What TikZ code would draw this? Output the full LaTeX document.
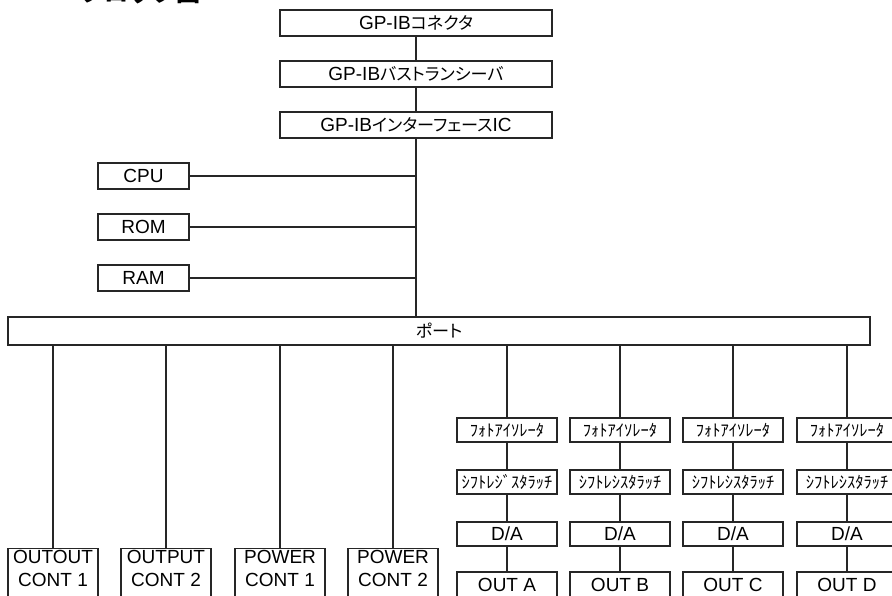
\documentclass[tikz,border=0pt]{standalone}
\usepackage{fontspec}
\setmainfont{Liberation Sans}
\newfontfamily\jp[Scale=0.9,RawFeature={+palt}]{Noto Sans CJK JP}
\newfontfamily\jpn{Noto Sans CJK JP}

\begin{document}
\begin{tikzpicture}[x=1pt,y=-1pt,
  blk/.style={draw=black!85,line width=1.4pt,inner sep=0pt,minimum height=26pt,font=\fontsize{19}{23}\selectfont},
  half/.style={blk,minimum width=100pt,minimum height=24pt,font=\jpn\fontsize{16.5}{18}\selectfont},
  cont/.style={blk,anchor=north,minimum width=90pt,align=center,inner ysep=2pt},
  wire/.style={draw=black!85,line width=1.1pt}]
\useasboundingbox (0,0) rectangle (892,595);

% title (cut off at the top)
\node[anchor=base west,inner sep=0pt,font=\jpn\bfseries\fontsize{24}{24}\selectfont] (title) at (80,1.5) {ブロック図};

% GP-IB chain
\node[blk,minimum width=272pt] (conn) at (416,23) {GP-IB{\jp コネクタ}};
\node[blk,minimum width=272pt] (trx) at (416,74) {GP-IB{\jp バストランシーバ}};
\node[blk,minimum width=272pt] (gpic) at (416,125) {GP-IB{\jp インターフェース}IC};
\draw[wire] (conn) -- (trx);
\draw[wire] (trx) -- (gpic);

% cpu, memory
\node[blk,minimum width=91pt] (cpu) at (143.5,176) {CPU};
\node[blk,minimum width=91pt] (rom) at (143.5,227) {ROM};
\node[blk,minimum width=91pt] (ram) at (143.5,278) {RAM};

\node[blk,minimum width=862pt,minimum height=28pt] (port) at (439,331) {{\jp ポート}};

\draw[wire] (gpic.south) -- (gpic.south |- port.north);
\draw[wire] (cpu.east) -- (cpu.east -| gpic.south);
\draw[wire] (rom.east) -- (rom.east -| gpic.south);
\draw[wire] (ram.east) -- (ram.east -| gpic.south);

% control outputs
\node[cont] (oc1) at (53,548) {OUTOUT\\CONT 1\rule[-12pt]{0pt}{0pt}};
\node[cont] (oc2) at (166,548) {OUTPUT\\CONT 2\rule[-12pt]{0pt}{0pt}};
\node[cont] (pc1) at (280,548) {POWER\\CONT 1\rule[-12pt]{0pt}{0pt}};
\node[cont] (pc2) at (393,548) {POWER\\CONT 2\rule[-12pt]{0pt}{0pt}};
\draw[wire] (oc1.north |- port.south) -- (oc1.north);
\draw[wire] (oc2.north |- port.south) -- (oc2.north);
\draw[wire] (pc1.north |- port.south) -- (pc1.north);
\draw[wire] (pc2.north |- port.south) -- (pc2.north);

% analog outputs A
\node[half] (iso1) at (507,430) {ﾌｫﾄｱｲｿﾚｰﾀ};
\node[half] (sft1) at (507,482) {ｼﾌﾄﾚｼﾞｽﾀﾗｯﾁ};
\node[blk,minimum width=100pt,minimum height=24pt] (da1) at (507,534) {D/A};
\node[blk,minimum width=100pt] (outa) at (507,585) {OUT A};
% B
\node[half] (iso2) at (620,430) {ﾌｫﾄｱｲｿﾚｰﾀ};
\node[half] (sft2) at (620,482) {ｼﾌﾄﾚｼｽﾀﾗｯﾁ};
\node[blk,minimum width=100pt,minimum height=24pt] (da2) at (620,534) {D/A};
\node[blk,minimum width=100pt] (outb) at (620,585) {OUT B};
% C
\node[half] (iso3) at (733,430) {ﾌｫﾄｱｲｿﾚｰﾀ};
\node[half] (sft3) at (733,482) {ｼﾌﾄﾚｼｽﾀﾗｯﾁ};
\node[blk,minimum width=100pt,minimum height=24pt] (da3) at (733,534) {D/A};
\node[blk,minimum width=100pt] (outc) at (733,585) {OUT C};
% D
\node[half] (iso4) at (847,430) {ﾌｫﾄｱｲｿﾚｰﾀ};
\node[half] (sft4) at (847,482) {ｼﾌﾄﾚｼｽﾀﾗｯﾁ};
\node[blk,minimum width=100pt,minimum height=24pt] (da4) at (847,534) {D/A};
\node[blk,minimum width=100pt] (outd) at (847,585) {OUT D};

\draw[wire] (iso1.north |- port.south) -- (iso1);
\draw[wire] (iso1) -- (sft1);
\draw[wire] (sft1) -- (da1);
\draw[wire] (da1) -- (outa);
\draw[wire] (iso2.north |- port.south) -- (iso2);
\draw[wire] (iso2) -- (sft2);
\draw[wire] (sft2) -- (da2);
\draw[wire] (da2) -- (outb);
\draw[wire] (iso3.north |- port.south) -- (iso3);
\draw[wire] (iso3) -- (sft3);
\draw[wire] (sft3) -- (da3);
\draw[wire] (da3) -- (outc);
\draw[wire] (iso4.north |- port.south) -- (iso4);
\draw[wire] (iso4) -- (sft4);
\draw[wire] (sft4) -- (da4);
\draw[wire] (da4) -- (outd);

\end{tikzpicture}
\end{document}
